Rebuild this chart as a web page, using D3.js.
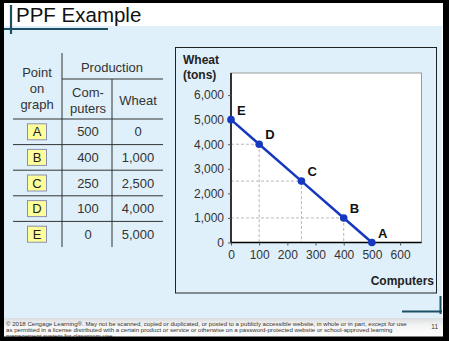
<!DOCTYPE html>
<html>
<head>
<meta charset="utf-8">
<script src="https://cdn.jsdelivr.net/npm/d3@7"></script>
<style>
  html, body { margin: 0; padding: 0; background: #000; }
  svg { display: block; font-family: Arial, "Liberation Sans", sans-serif; }
</style>
</head>
<body>
<script>
// Production possibilities: points on the frontier
const points = ["A", "B", "C", "D", "E"];
const computers = [500, 400, 250, 100, 0];
const wheat = [0, 1000, 2500, 4000, 5000];

const xTicks = [0, 100, 200, 300, 400, 500, 600];
const yTicks = [0, 1000, 2000, 3000, 4000, 5000, 6000];

const title = "PPF Example";
const footerLines = [
  "© 2018 Cengage Learning®. May not be scanned, copied or duplicated, or posted to a publicly accessible website, in whole or in part, except for use",
  "as permitted in a license distributed with a certain product or service or otherwise on a password-protected website or school-approved learning",
  "management system for classroom use."
];

const W = 449, H = 341;
const svg = d3.select("body").append("svg").attr("width", W).attr("height", H);

// slide frame
svg.append("rect").attr("width", W).attr("height", H).attr("fill", "#000");
svg.append("rect").attr("x", 4).attr("y", 3).attr("width", 439).attr("height", 336).attr("fill", "#fff");
svg.append("rect").attr("x", 4).attr("y", 26).attr("width", 438).attr("height", 293).attr("fill", "#dff0fa");

const fg = svg.append("defs").append("linearGradient").attr("id", "foot").attr("x1", 0).attr("y1", 0).attr("x2", 0).attr("y2", 1);
fg.append("stop").attr("offset", "0%").attr("stop-color", "#d9dde0");
fg.append("stop").attr("offset", "35%").attr("stop-color", "#f4f4f4");
fg.append("stop").attr("offset", "100%").attr("stop-color", "#ffffff");
svg.append("rect").attr("x", 4).attr("y", 318).attr("width", 439).attr("height", 21).attr("fill", "url(#foot)");

// title + accent rules
svg.append("text").attr("x", 16).attr("y", 22).attr("font-size", 20.5).attr("fill", "#111").text(title);
svg.append("line").attr("x1", 11).attr("x2", 11).attr("y1", 5).attr("y2", 34).attr("stroke", "#1c4f66").attr("stroke-width", 2.2);
svg.append("line").attr("x1", 4).attr("x2", 108).attr("y1", 29).attr("y2", 29).attr("stroke", "#1c4f66").attr("stroke-width", 2);
svg.append("line").attr("x1", 440.5).attr("x2", 440.5).attr("y1", 296).attr("y2", 314).attr("stroke", "#1c4f66").attr("stroke-width", 2);
svg.append("line").attr("x1", 402).attr("x2", 442).attr("y1", 311.5).attr("y2", 311.5).attr("stroke", "#1c4f66").attr("stroke-width", 2);

// footer text
footerLines.forEach((t, i) => {
  svg.append("text").attr("x", 6).attr("y", 326 + i * 6).attr("font-size", 6.1).attr("fill", "#333").text(t);
});
svg.append("text").attr("x", 438).attr("y", 328.5).attr("font-size", 6.5).attr("text-anchor", "end").attr("fill", "#333").text("11");
// bottom edge of the frame trims the last footer line
svg.append("rect").attr("x", 0).attr("y", 336.5).attr("width", W).attr("height", 5).attr("fill", "#000");

// ---- table ----
const tbl = svg.append("g").attr("fill", "#333").attr("font-size", 13).attr("text-anchor", "middle");
const lineCol = "#333";
const rowTop = 119, rowH = 25.6;
tbl.append("line").attr("x1", 62).attr("x2", 62).attr("y1", 53).attr("y2", rowTop + rowH * points.length).attr("stroke", lineCol);
tbl.append("line").attr("x1", 112).attr("x2", 112).attr("y1", 79).attr("y2", rowTop + rowH * points.length).attr("stroke", lineCol);
tbl.append("line").attr("x1", 62).attr("x2", 163).attr("y1", 79).attr("y2", 79).attr("stroke", lineCol);
for (let i = 0; i < points.length; i++) {
  const y = rowTop + rowH * i;
  tbl.append("line").attr("x1", 13).attr("x2", 163).attr("y1", y).attr("y2", y).attr("stroke", lineCol);
}
tbl.append("text").attr("x", 37).attr("y", 77).text("Point");
tbl.append("text").attr("x", 37).attr("y", 93).text("on");
tbl.append("text").attr("x", 37).attr("y", 109).text("graph");
tbl.append("text").attr("x", 112).attr("y", 72).text("Production");
tbl.append("text").attr("x", 88).attr("y", 97).text("Com-");
tbl.append("text").attr("x", 88).attr("y", 113).text("puters");
tbl.append("text").attr("x", 138).attr("y", 105).text("Wheat");

const fmt = d3.format(",");
points.forEach((p, i) => {
  const cy = rowTop + rowH * i + rowH / 2;
  tbl.append("rect").attr("x", 27.5).attr("y", cy - 8).attr("width", 19).attr("height", 16)
    .attr("fill", "#ffff99").attr("stroke", "#8a8fb0").attr("stroke-width", 1);
  tbl.append("text").attr("x", 37).attr("y", cy + 4.5).attr("fill", "#222").text(p);
  tbl.append("text").attr("x", 88).attr("y", cy + 4.5).text(computers[i]);
  tbl.append("text").attr("x", 138).attr("y", cy + 4.5).text(fmt(wheat[i]));
});

// ---- chart ----
svg.append("rect").attr("x", 175.5).attr("y", 47.5).attr("width", 261).attr("height", 245.5)
  .attr("fill", "none").attr("stroke", "#222").attr("stroke-width", 1);

const x = d3.scaleLinear().domain([0, 676]).range([231, 421.5]);
const y = d3.scaleLinear().domain([0, 6900]).range([242.5, 73]);

svg.append("rect").attr("x", x(0)).attr("y", y(6900)).attr("width", x(676) - x(0)).attr("height", y(0) - y(6900))
  .attr("fill", "#fff").attr("stroke", "#999").attr("stroke-width", 1);

// drop lines to both axes
const guides = svg.append("g").attr("stroke", "#b8b8b8").attr("stroke-dasharray", "3,2").attr("stroke-width", 1);
points.forEach((p, i) => {
  if (computers[i] > 0 && wheat[i] > 0) {
    guides.append("line").attr("x1", x(0)).attr("x2", x(computers[i])).attr("y1", y(wheat[i])).attr("y2", y(wheat[i]));
    guides.append("line").attr("x1", x(computers[i])).attr("x2", x(computers[i])).attr("y1", y(wheat[i])).attr("y2", y(0));
  }
});

const xAxis = svg.append("g").attr("transform", `translate(0,${y(0)})`)
  .call(d3.axisBottom(x).tickValues(xTicks).tickSize(3).tickPadding(5).tickFormat(d3.format("d")));
const yAxis = svg.append("g").attr("transform", `translate(${x(0)},0)`)
  .call(d3.axisLeft(y).tickValues(yTicks).tickSize(3).tickPadding(4).tickFormat(d3.format(",")));
[xAxis, yAxis].forEach(a => {
  a.select(".domain").attr("stroke", "#000").attr("stroke-width", 1.5);
  a.selectAll(".tick line").attr("stroke", "#555");
  a.selectAll(".tick text").attr("font-size", 12).attr("fill", "#333").attr("font-family", "Arial, 'Liberation Sans', sans-serif");
});
xAxis.select(".domain").attr("d", `M${x(0)},0H${x(676)}`);
yAxis.select(".domain").attr("d", `M0,${y(0)}V${y(6900)}`);

svg.append("text").attr("x", 183).attr("y", 64).attr("font-size", 12).attr("font-weight", "bold").attr("fill", "#222").text("Wheat");
svg.append("text").attr("x", 183).attr("y", 79).attr("font-size", 12).attr("font-weight", "bold").attr("fill", "#222").text("(tons)");
svg.append("text").attr("x", 434).attr("y", 285).attr("font-size", 12).attr("font-weight", "bold").attr("fill", "#222")
  .attr("text-anchor", "end").text("Computers");

// frontier
const pts = points.map((p, i) => ({ p, c: computers[i], w: wheat[i] }));
svg.append("path").datum(pts)
  .attr("d", d3.line().x(d => x(d.c)).y(d => y(d.w)))
  .attr("fill", "none").attr("stroke", "#1638c0").attr("stroke-width", 2.5);
svg.selectAll("circle.pt").data(pts).enter().append("circle").attr("class", "pt")
  .attr("cx", d => x(d.c)).attr("cy", d => y(d.w)).attr("r", 3.8).attr("fill", "#1638c0");
svg.selectAll("text.pl").data(pts).enter().append("text").attr("class", "pl")
  .attr("x", d => x(d.c) + 6).attr("y", d => y(d.w) - 5)
  .attr("font-size", 13).attr("font-weight", "bold").attr("fill", "#111").text(d => d.p);
</script>
</body>
</html>
